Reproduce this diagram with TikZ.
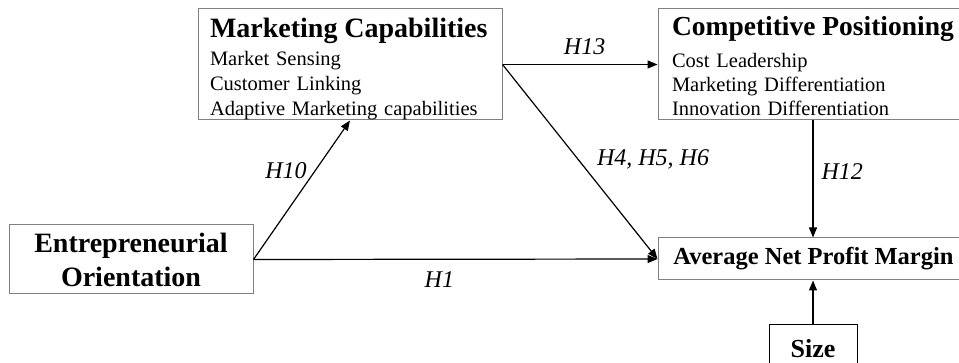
\documentclass[tikz,border=0pt]{standalone}
\usepackage{fontspec}
\setmainfont{Liberation Serif}
\usetikzlibrary{arrows.meta}

\begin{document}
\begin{tikzpicture}[x=1pt, y=-1pt, line width=1.2pt,
    box/.style={draw=gray, line width=1pt, rectangle, inner sep=0pt},
    link/.style={-{Triangle[length=10pt, width=8pt]}, line width=1.2pt},
    hyp/.style={font=\fontsize{24}{28}\selectfont\itshape, inner sep=0pt}]
    \useasboundingbox (0, 0) rectangle (959, 363);

    % draw the construct boxes
    \node[box, minimum width=304, minimum height=111, text width=280pt, align=left,
          text height=20pt, text depth=73pt,
          font=\fontsize{20.5}{25}\selectfont] (mc) at (350, 64.5)
      {\mbox{\fontsize{28}{25}\selectfont\bfseries Marketing Capabilities}\\[3pt]
       Market Sensing\\ Customer Linking\\ \mbox{Adaptive Marketing capabilities}};
    \node[box, minimum width=304, minimum height=111, text width=276pt, align=left,
          text height=20pt, text depth=77pt,
          font=\fontsize{20.5}{24}\selectfont] (cp) at (810, 64.5)
      {\mbox{\fontsize{27.5}{24}\selectfont\bfseries Competitive Positioning}\\[8pt]
       Cost Leadership\\ Marketing Differentiation\\ Innovation Differentiation};
    \node[box, minimum width=244, minimum height=69, align=center,
          font=\fontsize{28}{34}\selectfont\bfseries] (eo) at (131, 259.5)
      {Entrepreneurial\\ Orientation};
    \node[box, minimum width=311, minimum height=42,
          font=\fontsize{24.5}{28}\selectfont\bfseries] (anpm) at (813.5, 259)
      {Average Net Profit Margin};
    \node[box, draw=black, minimum width=88, minimum height=47,
          font=\fontsize{26}{30}\selectfont\bfseries] (size) at (813, 348.5)
      {Size};

    % draw the hypothesised paths
    \draw[link] (eo.east) -- node[hyp, pos=0.64, left=8pt] {H10} (mc.south);
    \draw[link] (eo.east) -- node[hyp, pos=0.46, below=12pt] {H1} (anpm.west);
    \draw[link] (mc.east) -- node[hyp, pos=0.53, above=9pt] {H13} (cp.west);
    \draw[link] (mc.east) -- node[hyp, pos=0.49, right=18pt] {H4, H5, H6} (anpm.west);
    \draw[link] (cp.south -| size) -- node[hyp, pos=0.44, right=8pt] {H12} (anpm.north -| size);
    \draw[link] (size.north) -- (anpm.south -| size);
\end{tikzpicture}
\end{document}
